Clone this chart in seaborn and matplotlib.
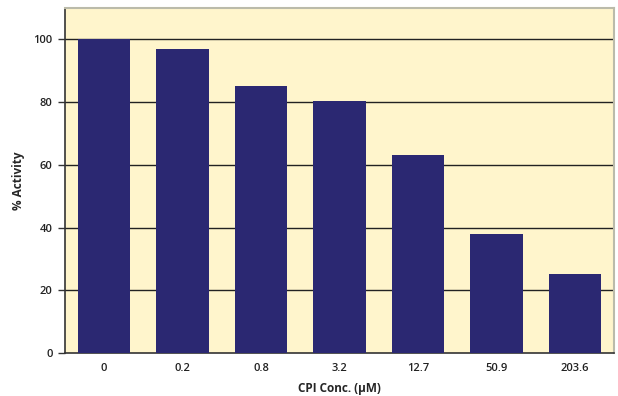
import numpy as np
import pandas as pd
import matplotlib
matplotlib.use("Agg")
import matplotlib.pyplot as plt
import seaborn as sns

conc = ["0", "0.2", "0.8", "3.2", "12.7", "50.9", "203.6"]
activity = [100, 97, 85.2, 80.4, 63.2, 38, 25.3]

df = pd.DataFrame({"conc": conc, "activity": activity})

sns.set_theme(style="white")
plt.rcParams['font.family'] = ['Open Sans', 'DejaVu Sans']

fig, ax = plt.subplots(figsize=(6.18, 3.96), dpi=100)
fig.subplots_adjust(left=0.105, right=0.994, top=0.98, bottom=0.108)

ax.set_facecolor("#FFF5CC")
sns.barplot(data=df, x="conc", y="activity", color="#2B2872", saturation=1,
            width=0.67, edgecolor="none", linewidth=0, ax=ax, zorder=3)

ax.set_ylim(0, 110)
ax.set_xlim(-0.5, len(conc) - 0.5)
ax.set_yticks([0, 20, 40, 60, 80, 100])
for v in [20, 40, 60, 80, 100]:
    ax.axhline(v, color="#222222", lw=1.0, zorder=1)

ax.set_xticks(np.arange(-0.5, len(conc)), minor=True)
ax.tick_params(axis="x", which="major", length=0, labelsize=8, pad=7)
ax.tick_params(axis="x", which="minor", length=4, width=1, color="#333333", direction="out")
ax.tick_params(axis="y", length=5, width=1, color="#333333", labelsize=8, pad=4, direction="out")
ax.tick_params(axis="both", bottom=True, left=True)
for lab in ax.get_xticklabels() + ax.get_yticklabels():
    lab.set_fontweight("semibold")
    lab.set_color("#222222")

for s in ["left", "bottom"]:
    ax.spines[s].set_color("#333333")
    ax.spines[s].set_linewidth(1.2)
for s in ["top", "right"]:
    ax.spines[s].set_visible(True)
    ax.spines[s].set_color("#BBBBAA")
    ax.spines[s].set_linewidth(1.5)

ax.set_xlabel("CPI Conc. (µM)", fontsize=8.5, fontweight="bold", labelpad=6)
ax.set_ylabel("% Activity", fontsize=8.5, fontweight="bold", labelpad=6)

fig.savefig("out.png", dpi=100)
